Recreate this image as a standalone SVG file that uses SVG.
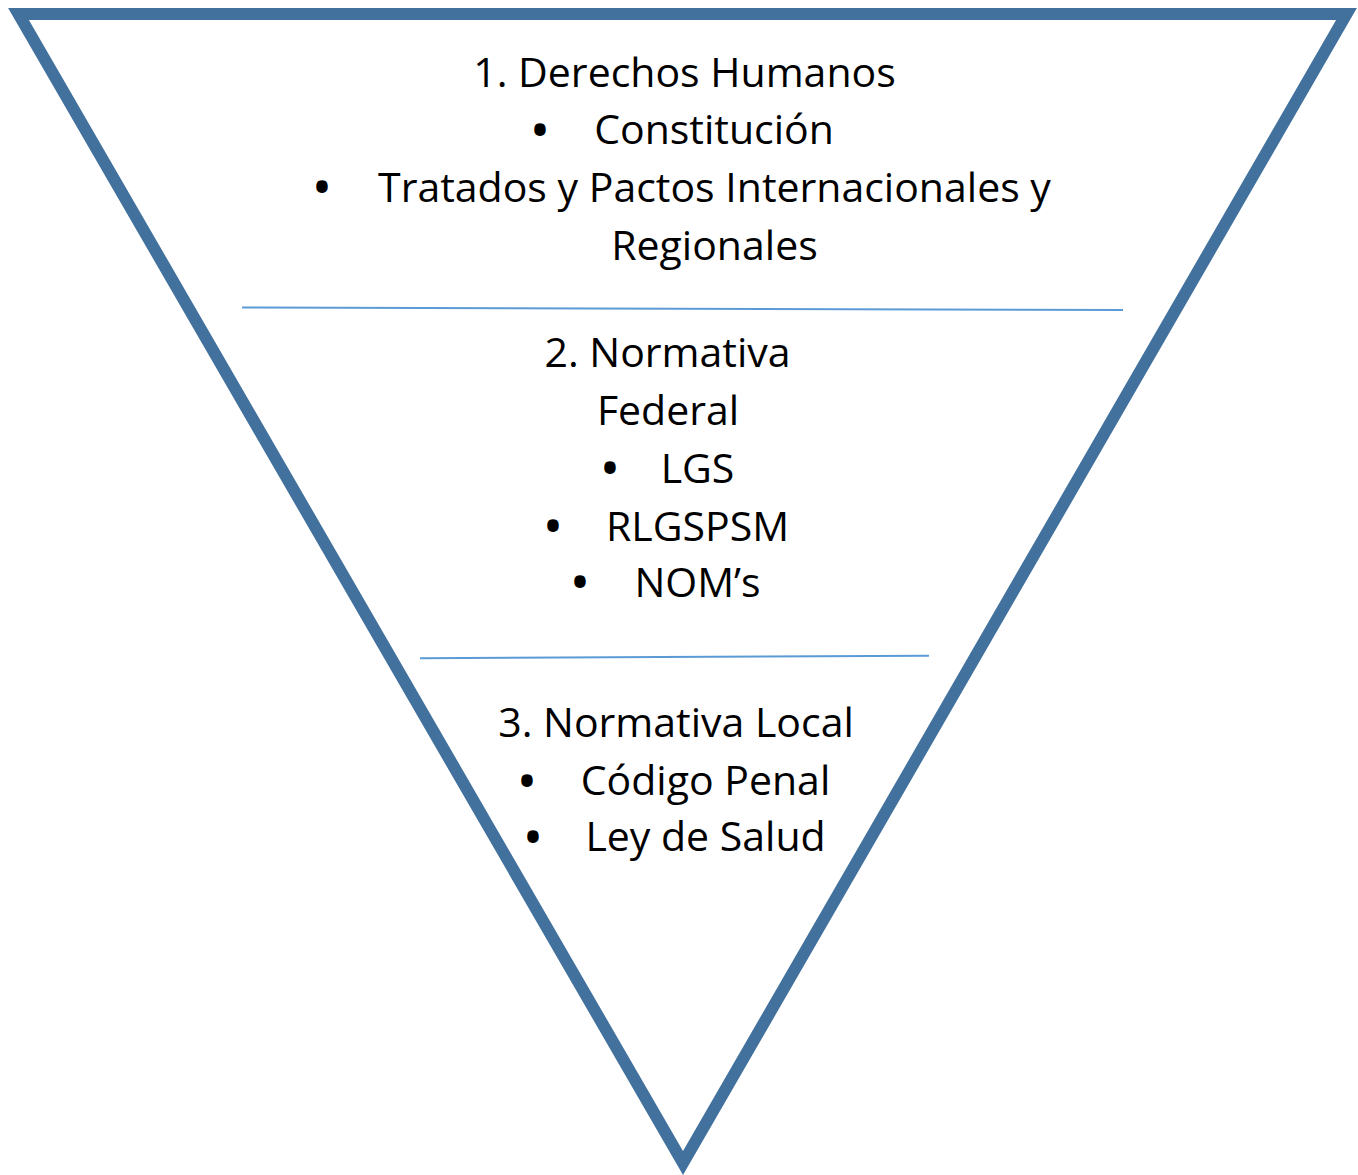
<svg xmlns="http://www.w3.org/2000/svg" width="1358" height="1175" viewBox="0 0 1358 1175">
<style>
.t{font-family:"Open Sans","Liberation Sans",sans-serif;font-size:41px;fill:#000;text-anchor:middle}
.b{font-family:"Open Sans","Liberation Sans",sans-serif;font-size:41px;font-weight:700;fill:#000;text-anchor:middle}
.div{stroke:#5b9bd5;stroke-width:2;fill:none}
</style>
<rect width="1358" height="1175" fill="#fff"/>
<g id="triangle">
<polygon points="18.5,14 1346.5,14 683,1163" fill="none" stroke="#41719c" stroke-width="12" stroke-linejoin="miter" stroke-miterlimit="10"/>
</g>
<g id="connectors">
<line class="div" x1="242" y1="307.5" x2="1123" y2="310"/>
<line class="div" x1="420" y1="658.3" x2="929" y2="655.7"/>
</g>
<g id="level1">
<text class="t" x="684.5" y="87">1. Derechos Humanos</text>
<text class="b" x="540" y="144.5">•</text>
<text class="t" x="714" y="144">Constitución</text>
<text class="b" x="322" y="202.2">•</text>
<text class="t" x="714.5" y="201.7">Tratados y Pactos Internacionales y</text>
<text class="t" x="714.5" y="259.5">Regionales</text>
</g>
<g id="level2">
<text class="t" x="667.5" y="367.3">2. Normativa</text>
<text class="t" x="668" y="425">Federal</text>
<text class="b" x="610" y="483.2">•</text>
<text class="t" x="697.5" y="482.7">LGS</text>
<text class="b" x="553" y="541.2">•</text>
<text class="t" x="697.5" y="540.7">RLGSPSM</text>
<text class="b" x="580" y="597.2">•</text>
<text class="t" x="697.5" y="596.7">NOM’s</text>
</g>
<g id="level3">
<text class="t" x="676" y="736.7">3. Normativa Local</text>
<text class="b" x="527" y="795.5">•</text>
<text class="t" x="705.5" y="795">Código Penal</text>
<text class="b" x="533" y="851.5">•</text>
<text class="t" x="705.5" y="851">Ley de Salud</text>
</g>
</svg>
